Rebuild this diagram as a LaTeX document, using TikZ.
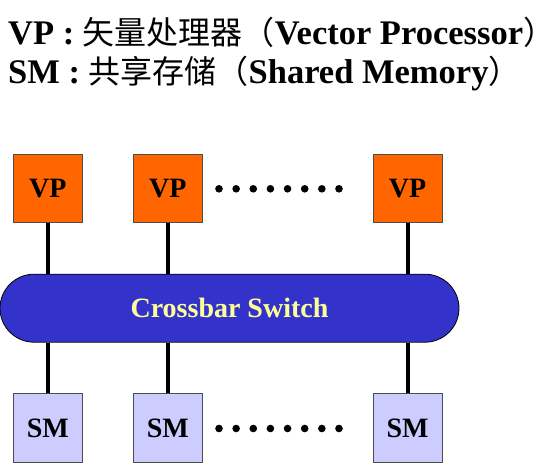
\documentclass[tikz,border=0pt]{standalone}
\usepackage{fontspec}
\setmainfont{Liberation Serif}
\newfontfamily\cjk{Noto Sans CJK SC}
\usetikzlibrary{shapes.misc}
\definecolor{vporange}{HTML}{FF6600}
\definecolor{smlav}{HTML}{CCCCFF}
\definecolor{xblue}{HTML}{3333CC}
\definecolor{xyellow}{HTML}{FFFF99}
\newcommand{\cj}[1]{{\cjk\mdseries\fontsize{32}{39}\selectfont #1}}
\newcommand{\cjclose}{{\cjk\mdseries\fontsize{32}{39}\selectfont\makebox[0.42em][l]{）}}}
\tikzset{
  title/.style={anchor=base west, inner sep=0pt, font=\fontsize{34.5}{39}\selectfont\bfseries},
  vpbox/.style={draw=black!70, line width=0.8pt, fill=vporange, minimum width=69pt, minimum height=68pt, inner sep=0pt, font=\fontsize{28}{30}\selectfont\bfseries},
  smbox/.style={draw=black!70, line width=0.8pt, fill=smlav, minimum width=69pt, minimum height=69pt, inner sep=0pt, font=\fontsize{28}{30}\selectfont\bfseries},
  xbar/.style={rounded rectangle, draw=black, line width=0.8pt, fill=xblue, text=xyellow, minimum width=459pt, minimum height=68pt, inner sep=0pt, font=\fontsize{28}{30}\selectfont\bfseries},
  link/.style={line width=4pt, black},
  dot/.style={black}
}
\begin{document}
\begin{tikzpicture}[x=1pt,y=-1pt]
\useasboundingbox (0,0) rectangle (558,475);
\node[title] (t1) at (8,44.3) {VP : \cj{矢量处理器（}Vector Processor\cjclose};
\node[title] (t2) at (8,83.3) {SM : \cj{共享存储（}Shared Memory\cjclose};

\node[vpbox] (vp1) at (47.8,188.5) {VP};
\node[vpbox] (vp2) at (167.8,188.5) {VP};
\node[vpbox] (vp3) at (407.5,188.5) {VP};

\node[xbar] (xb) at (229.5,308.2) {Crossbar Switch};

\node[smbox] (sm1) at (47.8,428) {SM};
\node[smbox] (sm2) at (167.8,428) {SM};
\node[smbox] (sm3) at (407.5,428) {SM};

\foreach \n in {1,2,3}{
  \draw[link] (vp\n.south) -- (vp\n.south |- xb.north);
  \draw[link] (sm\n.north) -- (sm\n.north |- xb.south);
}
\foreach \i in {0,...,7}{
  \fill[dot] (219+\i*17.14,188.8) circle (3.8);
  \fill[dot] (219+\i*17.14,428.5) circle (3.8);
}
\end{tikzpicture}
\end{document}
